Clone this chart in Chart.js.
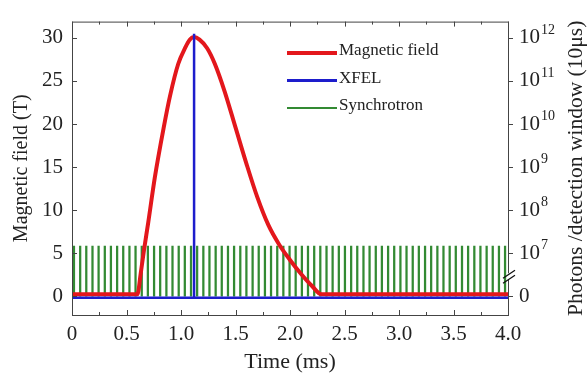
<!DOCTYPE html>
<html>
<head>
<meta charset="utf-8">
<script src="https://cdn.jsdelivr.net/npm/chart.js@4.4.0/dist/chart.umd.min.js"></script>
<style>
  html, body { margin: 0; padding: 0; background: #fff; }
  #wrap { width: 587px; height: 376px; }
</style>
</head>
<body>
<div id="wrap"><canvas id="chart"></canvas></div>
<script>
// magnetic field pulse (T) vs time (ms)
const fieldTime  = [0, 0.60, 0.63, 0.66, 0.70, 0.76, 0.84, 0.90, 0.975, 1.04, 1.08, 1.12, 1.17, 1.24, 1.31, 1.40, 1.50, 1.60, 1.70, 1.80, 1.90, 2.00, 2.10, 2.20, 2.29, 4.0];
const fieldValue = [0.2, 0.2, 2.6, 5.3, 8.6, 13.8, 19.5, 23.3, 27.0, 28.9, 29.8, 30.1, 29.8, 28.8, 27.0, 23.8, 19.6, 15.4, 11.5, 8.3, 6.0, 4.2, 2.6, 1.2, 0.2, 0.2];

// XFEL single pulse
const xfelTime  = [0, 1.12, 1.12, 1.12, 4.0];
const xfelValue = [-0.2, -0.2, 30.5, -0.2, -0.2];

// synchrotron pulse train
const syncTime = [0.018, 0.075, 0.131, 0.188, 0.244, 0.301, 0.357, 0.414, 0.470, 0.527,
  0.583, 0.640, 0.696, 0.753, 0.809, 0.866, 0.922, 0.979, 1.035, 1.092,
  1.148, 1.205, 1.261, 1.318, 1.374, 1.431, 1.487, 1.544, 1.600, 1.657,
  1.713, 1.770, 1.826, 1.883, 1.939, 1.996, 2.052, 2.109, 2.165, 2.222,
  2.278, 2.335, 2.391, 2.448, 2.504, 2.561, 2.617, 2.674, 2.730, 2.787,
  2.843, 2.900, 2.956, 3.013, 3.069, 3.126, 3.182, 3.239, 3.295, 3.352,
  3.408, 3.465, 3.521, 3.578, 3.634, 3.691, 3.747, 3.804, 3.860, 3.917, 3.973];
const syncBase = 0;
const syncPeak = 5.8;

const xTicks = [0, 0.5, 1.0, 1.5, 2.0, 2.5, 3.0, 3.5, 4.0];
const xTickLabels = ['0', '0.5', '1.0', '1.5', '2.0', '2.5', '3.0', '3.5', '4.0'];
const xMinorTicks = [0.25, 0.75, 1.25, 1.75, 2.25, 2.75, 3.25, 3.75];
const yTicks = [0, 5, 10, 15, 20, 25, 30];
// right axis: photons, broken log axis sharing the left axis positions
const rightTickBase = ['0', '10', '10', '10', '10', '10', '10'];
const rightTickExp = ['', '7', '8', '9', '10', '11', '12'];

const seriesNames = ['Magnetic field', 'XFEL', 'Synchrotron'];
const colors = ['#e3171c', '#1d1dcc', '#338a33'];

const serif = 'Liberation Serif';
const ink = '#222';

const decor = {
  id: 'decor',
  afterDraw(chart) {
    const { ctx, chartArea: a, scales: { x, y } } = chart;
    ctx.save();
    ctx.strokeStyle = '#444';
    ctx.lineWidth = 1;
    ctx.strokeRect(a.left + 0.5, a.top + 0.5, a.right - a.left, a.bottom - a.top);

    ctx.beginPath();
    xTicks.forEach(v => {
      const px = Math.round(x.getPixelForValue(v)) + 0.5;
      ctx.moveTo(px, a.bottom); ctx.lineTo(px, a.bottom - 5);
      ctx.moveTo(px, a.top); ctx.lineTo(px, a.top + 5);
    });
    xMinorTicks.forEach(v => {
      const px = Math.round(x.getPixelForValue(v)) + 0.5;
      ctx.moveTo(px, a.bottom); ctx.lineTo(px, a.bottom - 3);
      ctx.moveTo(px, a.top); ctx.lineTo(px, a.top + 3);
    });
    yTicks.forEach(v => {
      const py = Math.round(y.getPixelForValue(v)) + 0.5;
      ctx.moveTo(a.left, py); ctx.lineTo(a.left + 5, py);
      ctx.moveTo(a.right, py); ctx.lineTo(a.right + 5, py);
    });
    ctx.stroke();

    // axis break on the right
    const by = y.getPixelForValue(2.3);
    ctx.fillStyle = '#fff';
    ctx.fillRect(a.right - 1, by - 3, 3, 6);
    ctx.strokeStyle = '#111';
    ctx.lineWidth = 1.3;
    ctx.beginPath();
    ctx.moveTo(a.right - 5, by + 2); ctx.lineTo(a.right + 7, by - 6);
    ctx.moveTo(a.right - 5, by + 7); ctx.lineTo(a.right + 7, by - 1);
    ctx.stroke();

    // right tick labels with exponents
    ctx.fillStyle = ink;
    ctx.textBaseline = 'middle';
    ctx.textAlign = 'left';
    yTicks.forEach((v, i) => {
      const py = y.getPixelForValue(v);
      ctx.font = '21px "' + serif + '"';
      ctx.fillText(rightTickBase[i], a.right + 11, py);
      const w = ctx.measureText(rightTickBase[i]).width;
      if (rightTickExp[i]) {
        ctx.font = '14px "' + serif + '"';
        ctx.fillText(rightTickExp[i], a.right + 12 + w, py - 8);
      }
    });

    // axis titles
    ctx.textAlign = 'center';
    const midY = (a.top + a.bottom) / 2;
    ctx.font = '20px "' + serif + '"';
    ctx.save();
    ctx.translate(22, midY);
    ctx.rotate(-Math.PI / 2);
    ctx.fillText('Magnetic field (T)', 0, 0);
    ctx.restore();
    ctx.font = '21.5px "' + serif + '"';
    ctx.save();
    ctx.translate(576, midY);
    ctx.rotate(-Math.PI / 2);
    ctx.fillText('Photons /detection window (10\u03bcs)', 0, 0);
    ctx.restore();
    ctx.font = '22px "' + serif + '"';
    ctx.fillText('Time (ms)', (a.left + a.right) / 2, 362);

    // legend
    const lw = [4, 3, 2];
    ctx.font = '17px "' + serif + '"';
    ctx.textAlign = 'left';
    seriesNames.forEach((name, i) => {
      const ly = 53 + i * 27.5;
      ctx.strokeStyle = colors[i];
      ctx.lineWidth = lw[i];
      ctx.beginPath();
      ctx.moveTo(287, ly); ctx.lineTo(337, ly);
      ctx.stroke();
      ctx.fillStyle = ink;
      ctx.fillText(name, 339, ly - 2);
    });
    ctx.restore();
  }
};

new Chart(document.getElementById('chart'), {
  type: 'line',
  data: {
    datasets: [
      {
        label: seriesNames[1],
        data: xfelTime.map((t, i) => ({ x: t, y: xfelValue[i] })),
        borderColor: colors[1],
        borderWidth: 2.5,
        pointRadius: 0,
        tension: 0,
        order: 0
      },
      {
        label: seriesNames[0],
        data: fieldTime.map((t, i) => ({ x: t, y: fieldValue[i] })),
        borderColor: colors[0],
        borderWidth: 4,
        pointRadius: 0,
        cubicInterpolationMode: 'monotone',
        order: 1
      },
      {
        type: 'bar',
        label: seriesNames[2],
        data: syncTime.map(t => ({ x: t, y: [syncBase, syncPeak] })),
        backgroundColor: colors[2],
        borderWidth: 0,
        barThickness: 1.6,
        order: 2
      }
    ]
  },
  options: {
    responsive: true,
    maintainAspectRatio: false,
    animation: false,
    devicePixelRatio: 1,
    layout: { padding: { top: 9, right: 79, left: 0, bottom: 0 } },
    plugins: { legend: { display: false }, tooltip: { enabled: false } },
    scales: {
      x: {
        type: 'linear',
        min: 0,
        max: 4,
        offset: false,
        grid: { display: false, drawTicks: false },
        border: { display: false },
        afterBuildTicks: s => { s.ticks = xTicks.map(v => ({ value: v })); },
        afterFit: s => { s.height = 61; },
        ticks: {
          autoSkip: false,
          maxRotation: 0,
          padding: 7,
          color: ink,
          font: { family: serif, size: 21 },
          callback: (v, i) => xTickLabels[i]
        }
      },
      y: {
        type: 'linear',
        min: -2.2,
        max: 31.9,
        grid: { display: false, drawTicks: false },
        border: { display: false },
        afterBuildTicks: s => { s.ticks = yTicks.map(v => ({ value: v })); },
        afterFit: s => { s.width = 72; },
        ticks: {
          padding: 9,
          color: ink,
          font: { family: serif, size: 21 },
          callback: v => String(v)
        }
      }
    }
  },
  plugins: [decor]
});
</script>
</body>
</html>
